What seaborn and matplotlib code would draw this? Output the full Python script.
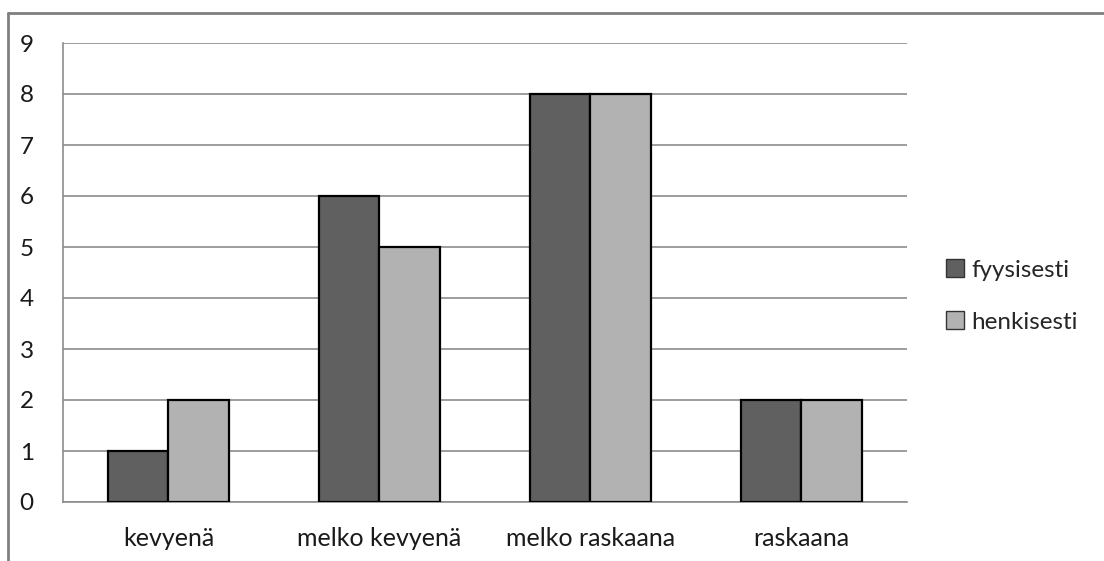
import matplotlib
matplotlib.use("Agg")
import matplotlib.pyplot as plt
import seaborn as sns
import pandas as pd
from matplotlib.lines import Line2D
from matplotlib.patches import Patch

categories = ["kevyenä", "melko kevyenä", "melko raskaana", "raskaana"]
series_names = ["fyysisesti", "henkisesti"]
fyysisesti = [1, 6, 8, 2]
henkisesti = [2, 5, 8, 2]
yticks = list(range(0, 10))

df = pd.DataFrame({
    "kategoria": categories * 2,
    "sarja": [series_names[0]] * 4 + [series_names[1]] * 4,
    "arvo": fyysisesti + henkisesti,
})

sns.set_style("white")
plt.rcParams["font.family"] = ["Lato", "DejaVu Sans"]

fig = plt.figure(figsize=(11.04, 5.61), dpi=100)
ax = fig.add_axes([63/1104, 1-502/561, (907-63)/1104, (502-43)/561])

colors = ["#606060", "#b2b2b2"]
sns.barplot(data=df, x="kategoria", y="arvo", hue="sarja", palette=colors,
            width=0.575, edgecolor="black", linewidth=1.6, ax=ax, legend=False,
            zorder=3)

ax.set_xlim(-0.5, 3.5)
ax.set_ylim(0, 9)
ax.set_yticks(yticks)
ax.yaxis.grid(True, color="#8c8c8c", linewidth=1.2, zorder=0)
ax.set_axisbelow(True)
ax.set_xlabel("")
ax.set_ylabel("")
for s in ["top", "right"]:
    ax.spines[s].set_visible(False)
ax.spines["left"].set_color("#8c8c8c")
ax.spines["bottom"].set_color("#8c8c8c")
ax.spines["left"].set_linewidth(1.2)
ax.spines["bottom"].set_linewidth(1.2)
ax.tick_params(axis="y", length=7, width=1.2, color="#8c8c8c", labelsize=17.5, pad=14)
ax.tick_params(axis="x", length=0, labelsize=18, pad=18)
ax.set_xticks([-0.5, 0.5, 1.5, 2.5, 3.5], minor=True)
ax.tick_params(axis="x", which="minor", length=7, width=1.2, color="#8c8c8c", direction="out")
for lab in ax.get_xticklabels() + ax.get_yticklabels():
    lab.set_color("#1a1a1a")

handles = [Patch(facecolor=c, edgecolor="#333333", linewidth=1.0) for c in colors]
fig.legend(handles, series_names, loc="center left", bbox_to_anchor=(946/1104, 1-296/561),
           frameon=False, fontsize=17.5, handlelength=0.75, handleheight=0.75,
           handletextpad=0.3, labelspacing=1.25, borderaxespad=0, borderpad=0)

fig.add_artist(Line2D([8/1104, 1.0], [1-13/561, 1-13/561], transform=fig.transFigure,
                      color="#808080", linewidth=2))
fig.add_artist(Line2D([8/1104, 8/1104], [1-13/561, 0], transform=fig.transFigure,
                      color="#808080", linewidth=2))

fig.savefig("out.png", dpi=100)
